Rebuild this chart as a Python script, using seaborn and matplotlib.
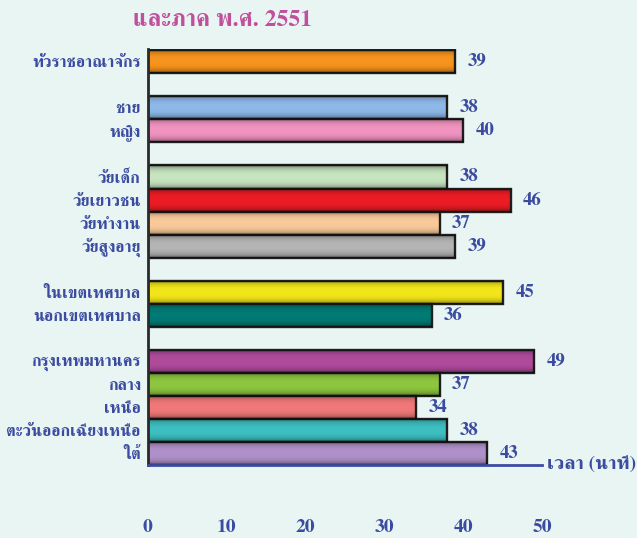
import numpy as np
import pandas as pd
import matplotlib
matplotlib.use("Agg")
import matplotlib.pyplot as plt
import seaborn as sns

# ข้อมูล: เวลาเฉลี่ย (นาที)
labels = ["ทั่วราชอาณาจักร",
          "ชาย", "หญิง",
          "วัยเด็ก", "วัยเยาวชน", "วัยทำงาน", "วัยสูงอายุ",
          "ในเขตเทศบาล", "นอกเขตเทศบาล",
          "กรุงเทพมหานคร", "กลาง", "เหนือ", "ตะวันออกเฉียงเหนือ", "ใต้"]
minutes = [39, 38, 40, 38, 46, 37, 39, 45, 36, 49, 37, 34, 38, 43]
groups = [1, 2, 4, 2, 5]   # จำนวนแถวในแต่ละกลุ่ม (คั่นด้วยแถวว่าง)
bar_colors = ["#F7941D", "#8DB8E8", "#F093C0", "#C6E4C0", "#EC1C24", "#F9C99A",
              "#B4B4B4", "#F2E61A", "#007A74", "#B04B9C", "#8DC63F", "#F07878",
              "#3DBEC0", "#B090C8"]
xticks = [0, 10, 20, 30, 40, 50]
title = "และภาค พ.ศ. 2551"
xlabel = "เวลา (นาที)"

# ลำดับแกน y พร้อมแถวว่างระหว่างกลุ่ม
order = []
i = 0
for g, n in enumerate(groups):
    if g > 0:
        order.append(" " * g)
    order.extend(labels[i:i + n])
    i += n

df = pd.DataFrame({"group": labels, "minutes": minutes})
palette = dict(zip(labels, bar_colors))

sns.set_style("white")
plt.rcParams["font.family"] = ["FreeSerif", "DejaVu Sans"]
plt.rcParams["font.weight"] = "bold"

bg = "#E8F5F3"
blue = "#3B4BA0"
fig = plt.figure(figsize=(6.37, 5.38), dpi=100, facecolor=bg)
ax = fig.add_axes([0.232, 0.1357, 0.619, 0.773])
ax.set_facecolor(bg)

sns.barplot(data=df, x="minutes", y="group", hue="group", order=order,
            hue_order=labels, palette=palette, legend=False, width=1.0,
            edgecolor="#1E1E1E", linewidth=1.7, saturation=1, ax=ax)

# เงาไล่ระดับบนแถบ
shade = np.abs(np.linspace(-1, 1, 64)) ** 3
grad = np.zeros((64, 1, 4))
grad[..., 3] = (0.45 * shade)[:, None]
for p in ax.patches:
    x0, y0 = p.get_x(), p.get_y()
    w, h = p.get_width(), p.get_height()
    if w <= 0:
        continue
    im = ax.imshow(grad, extent=(x0, x0 + w, y0 + h, y0), aspect="auto",
                   zorder=p.get_zorder() + 0.1, interpolation="bilinear")
    im.set_clip_path(p)

for c in ax.containers:
    ax.bar_label(c, padding=9, color=blue, fontsize=13.5, fontweight="bold",
                 clip_on=False)

ax.set_xlim(0, 50)
ax.set_ylim(17.5, -0.55)
ax.set_xticks(xticks)
ax.set_xticklabels([str(t) for t in xticks], fontweight="bold", fontsize=14,
                   color=blue)
ax.tick_params(axis="x", direction="out", length=7, width=2, color=blue, pad=32)
ax.tick_params(axis="y", length=0, pad=5, labelsize=11.8, labelcolor=blue)
for t in ax.get_yticklabels():
    t.set_fontweight("bold")
ax.set_xlabel("")
ax.set_ylabel("")

sns.despine(ax=ax, top=True, right=True)
ax.spines["left"].set_color("#2A2A2A")
ax.spines["left"].set_linewidth(2)
ax.spines["bottom"].set_color(blue)
ax.spines["bottom"].set_linewidth(2)

ax.text(1.012, 0.0, xlabel, transform=ax.transAxes, ha="left", va="center",
        fontsize=14, fontweight="bold", color=blue, clip_on=False)
fig.text(0.349, 0.962, title, ha="center", va="center", fontsize=17,
         fontweight="bold", color="#C0509A")

fig.savefig("out.png", dpi=100, facecolor=bg)
